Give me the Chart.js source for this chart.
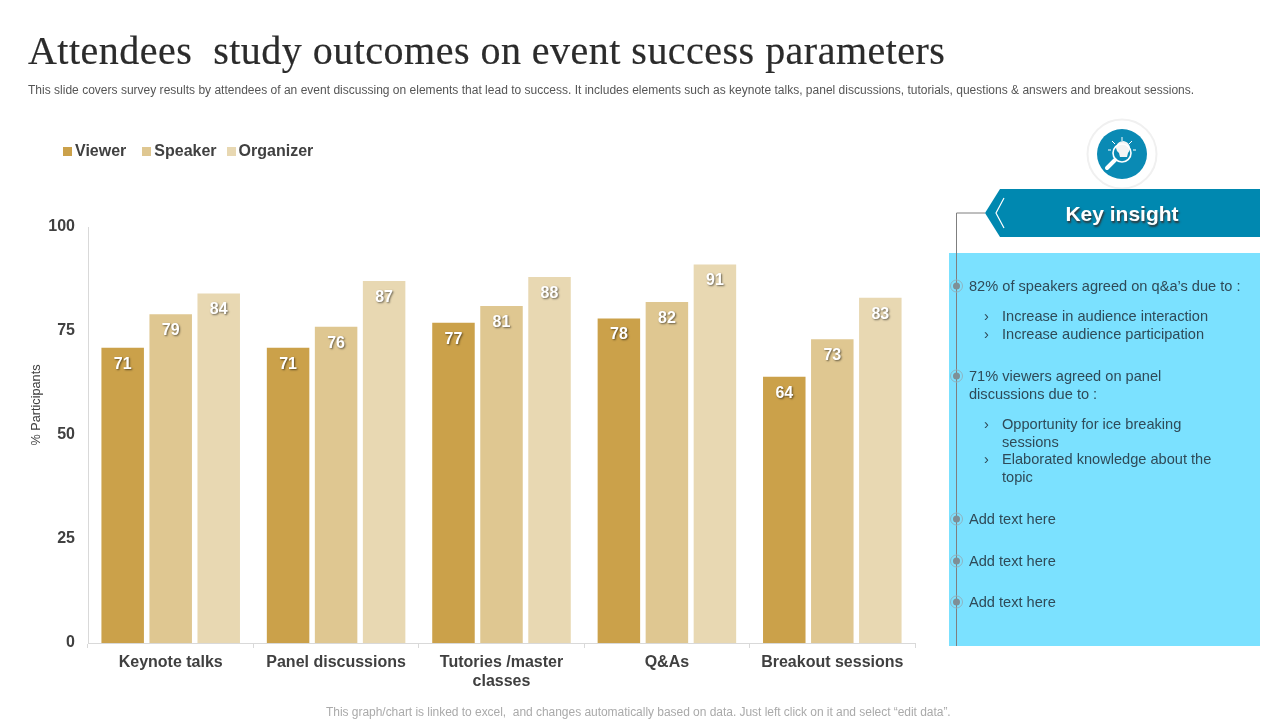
<!DOCTYPE html>
<html>
<head>
<meta charset="utf-8">
<title>Attendees study outcomes on event success parameters</title>
<script src="https://cdn.jsdelivr.net/npm/chart.js@4/dist/chart.umd.min.js"></script>
<style>
html, body { margin: 0; padding: 0; background: #fff; }
body { width: 1280px; height: 720px; position: relative; overflow: hidden; font-family: "Liberation Sans", Arial, sans-serif; }
#chartBox { position: absolute; left: 0; top: 0; width: 1280px; height: 720px; }
.abs { position: absolute; white-space: pre; }
h1 { position: absolute; left: 28px; top: 27px; margin: 0; font: 400 40px "Liberation Serif", serif; color: #2b2b2b; white-space: pre; letter-spacing: 0.48px; -webkit-text-stroke: 0.2px #2b2b2b; }
#sub { left: 28px; top: 83px; font-size: 12px; color: #555; letter-spacing: 0.01px; }
#foot { left: 326px; top: 705px; font-size: 12px; color: #aaa; letter-spacing: -0.035px; }
#panel { left: 949px; top: 253px; width: 311px; height: 393px; background: #7be1ff; }
#deco { position: absolute; left: 0; top: 0; }
.t { position: absolute; font-size: 14.6px; line-height: 18px; color: #2f4a58; white-space: pre; }
#banner { left: 1000px; top: 199px; width: 244px; text-align: center; font-size: 21px; line-height: 30px; font-weight: 700; color: #fff; text-shadow: 1px 2px 2px #333; }
#legend { position: absolute; left: 63px; top: 142px; display: flex; font: 700 16px/18px "Liberation Sans", sans-serif; color: #404040; }
#legend span.item { display: flex; align-items: center; margin-right: 16px; }
#legend span.item:nth-child(2) { margin-right: 10px; }
#legend i { display: block; width: 9px; height: 9px; margin-right: 3px; }
</style>
</head>
<body>
<div id="chartBox"><canvas id="attendeesChart"></canvas></div>
<h1>Attendees  study outcomes on event success parameters</h1>
<div class="abs" id="sub">This slide covers survey results by attendees of an event discussing on elements that lead to success. It includes elements such as keynote talks, panel discussions, tutorials, questions &amp; answers and breakout sessions.</div>
<div id="legend"></div>
<div class="abs" id="panel"></div>
<svg id="deco" width="1280" height="720">
  <circle cx="1122" cy="154" r="34.5" fill="#fff" stroke="#f0f0f0" stroke-width="2"/>
  <circle cx="1122" cy="154" r="25" fill="#0a8ab4"/>
  <path d="M1116 148a7 7 0 1 1 12 5l-1 4h-7l-1-4a7 7 0 0 1-3-5z" fill="#f4f4f4"/>
  <circle cx="1122" cy="153" r="9" fill="none" stroke="#fff" stroke-width="1.6"/>
  <path d="M1115 160l-8 8" stroke="#fff" stroke-width="4" stroke-linecap="round"/>
  <path d="M1122 137v4M1112 141l3 3M1132 141l-3 3M1108 150h3M1133 150h3" stroke="#fff" stroke-width="1"/>
  <path d="M985 213L1000 189H1260V237H1000Z" fill="#0088b0"/>
  <path d="M1004 198L996 213L1004 228" fill="none" stroke="#fff" stroke-width="1.2"/>
  <path d="M985 213H956.5V646" fill="none" stroke="#7f7f7f" stroke-width="1"/>
  <g fill="#7f8f96">
    <circle cx="956.5" cy="286" r="3.5"/><circle cx="956.5" cy="376" r="3.5"/>
    <circle cx="956.5" cy="519" r="3.5"/><circle cx="956.5" cy="561" r="3.5"/><circle cx="956.5" cy="602" r="3.5"/>
  </g>
  <g fill="none" stroke="#8fb4c2" stroke-width="1">
    <circle cx="956.5" cy="286" r="6"/><circle cx="956.5" cy="376" r="6"/>
    <circle cx="956.5" cy="519" r="6"/><circle cx="956.5" cy="561" r="6"/><circle cx="956.5" cy="602" r="6"/>
  </g>
</svg>
<div class="abs" id="banner">Key insight</div>
<div class="t" style="left:969px;top:277px">82% of speakers agreed on q&amp;a’s due to :</div>
<div class="t" style="left:984px;top:307px">›</div>
<div class="t" style="left:1002px;top:307px">Increase in audience interaction</div>
<div class="t" style="left:984px;top:325px">›</div>
<div class="t" style="left:1002px;top:325px">Increase audience participation</div>
<div class="t" style="left:969px;top:367px">71% viewers agreed on panel
discussions due to :</div>
<div class="t" style="left:984px;top:415px">›</div>
<div class="t" style="left:1002px;top:415px">Opportunity for ice breaking
sessions</div>
<div class="t" style="left:984px;top:450px">›</div>
<div class="t" style="left:1002px;top:450px">Elaborated knowledge about the
topic</div>
<div class="t" style="left:969px;top:510px">Add text here</div>
<div class="t" style="left:969px;top:552px">Add text here</div>
<div class="t" style="left:969px;top:593px">Add text here</div>
<div class="abs" id="foot">This graph/chart is linked to excel,  and changes automatically based on data. Just left click on it and select “edit data”.</div>

<script>
const categories = ['Keynote talks', 'Panel discussions', ['Tutories /master', 'classes'], 'Q&As', 'Breakout sessions'];
const viewer = [71, 71, 77, 78, 64];
const speaker = [79, 76, 81, 82, 73];
const organizer = [84, 87, 88, 91, 83];
const yTicks = [0, 25, 50, 75, 100];

const textColor = '#404040';
const axisColor = '#d9d9d9';

// numbers on the bars and the axis name, which sits above the middle of the axis
const barValues = {
    id: 'barValues',
    afterDatasetsDraw(chart) {
        const ctx = chart.ctx;
        ctx.save();
        ctx.font = 'bold 16px "Liberation Sans"';
        ctx.textAlign = 'center';
        ctx.textBaseline = 'middle';
        ctx.fillStyle = '#fff';
        ctx.shadowColor = 'rgba(0,0,0,0.55)';
        ctx.shadowBlur = 2;
        ctx.shadowOffsetX = 1;
        ctx.shadowOffsetY = 1;
        chart.data.datasets.forEach((ds, i) => {
            chart.getDatasetMeta(i).data.forEach((bar, j) => {
                ctx.fillText(ds.data[j], bar.x, bar.y + 16.5);
            });
        });
        ctx.restore();

        ctx.save();
        ctx.translate(36, 405);
        ctx.rotate(-Math.PI / 2);
        ctx.font = '12.7px "Liberation Sans"';
        ctx.textAlign = 'center';
        ctx.textBaseline = 'middle';
        ctx.fillStyle = textColor;
        ctx.fillText('% Participants', 0, 0);
        ctx.restore();
    }
};

const chart = new Chart(document.getElementById('attendeesChart'), {
    type: 'bar',
    data: {
        labels: categories,
        datasets: [
            { label: 'Viewer', data: viewer, backgroundColor: '#cba14a' },
            { label: 'Speaker', data: speaker, backgroundColor: '#dfc791' },
            { label: 'Organizer', data: organizer, backgroundColor: '#e8d8b2' }
        ]
    },
    options: {
        responsive: true,
        maintainAspectRatio: false,
        animation: false,
        categoryPercentage: 0.871,
        barPercentage: 0.885,
        layout: { padding: { left: 28, right: 365, top: 227, bottom: 0 } },
        plugins: {
            tooltip: { enabled: false },
            legend: { display: false }
        },
        scales: {
            x: {
                afterFit(scale) { scale.height = 77; },
                grid: { drawOnChartArea: false, color: axisColor, tickLength: 5, offset: true },
                border: { color: axisColor },
                ticks: {
                    color: textColor,
                    padding: 5,
                    maxRotation: 0,
                    autoSkip: false,
                    font: { family: '"Liberation Sans"', size: 16, weight: 'bold' }
                }
            },
            y: {
                min: 0,
                max: 100,
                afterFit(scale) { scale.width = 60; scale.paddingTop = 0; scale.paddingBottom = 0; },
                afterBuildTicks(scale) { scale.ticks = yTicks.map(v => ({ value: v })); },
                grid: { display: false },
                border: { color: axisColor },
                ticks: {
                    color: textColor,
                    padding: 5,
                    font: { family: '"Liberation Sans"', size: 16, weight: 'bold' }
                }
            }
        }
    },
    plugins: [barValues]
});

// legend sits closer to its text than the built-in one allows
const legendBox = document.getElementById('legend');
chart.data.datasets.forEach(ds => {
    const item = document.createElement('span');
    item.className = 'item';
    item.innerHTML = `<i style="background:${ds.backgroundColor}"></i>${ds.label}`;
    legendBox.appendChild(item);
});
</script>
</body>
</html>
